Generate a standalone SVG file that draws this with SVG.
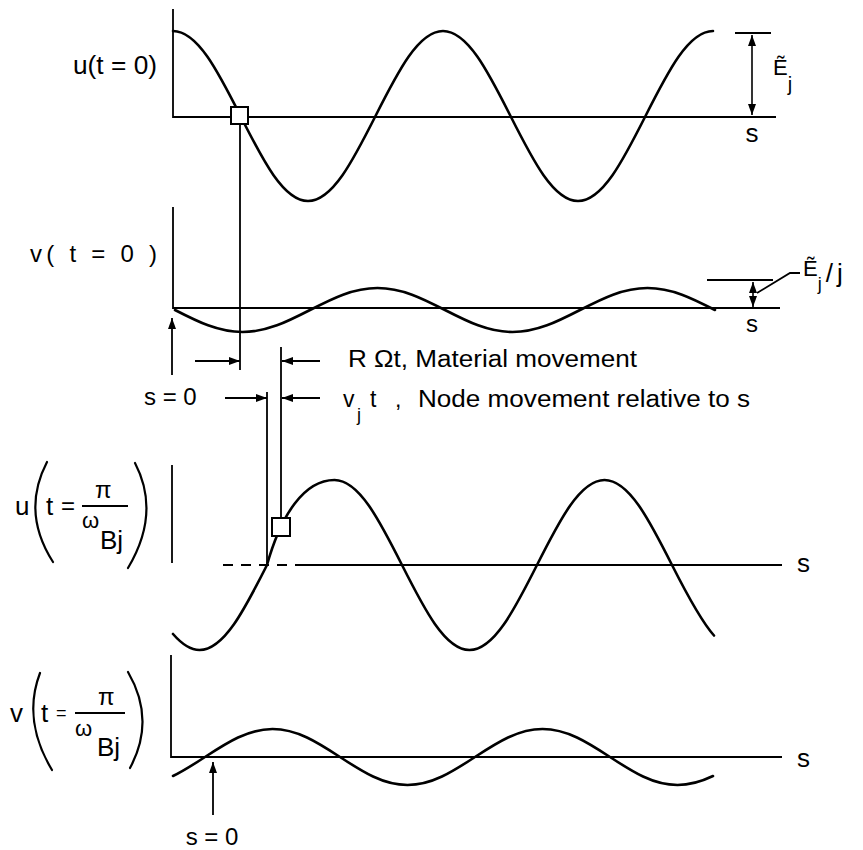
<svg xmlns="http://www.w3.org/2000/svg" width="863" height="850" viewBox="0 0 863 850">
<style>
.bg{fill:#fff}
.ax{stroke:#000;stroke-width:1.8;fill:none}
.cv{stroke:#000;stroke-width:2.6;fill:none;stroke-linecap:round}
.ln{stroke:#000;stroke-width:1.8;fill:none}
.ar{stroke:#000;stroke-width:1.8;fill:none;marker-end:url(#ah)}
.ar2{stroke:#000;stroke-width:1.6;fill:none;marker-start:url(#ah);marker-end:url(#ah)}
.box{fill:#fff;stroke:#000;stroke-width:2}
.par{stroke:#000;stroke-width:2.2;fill:none;stroke-linecap:round}
text{font-family:"Liberation Sans",Arial,sans-serif;fill:#000}
.t26{font-size:26px}
.t24{font-size:24px}
.t23{font-size:23px}
.t22{font-size:22px}
.t20{font-size:20px}
.t18{font-size:18px}
</style>
<defs>
<marker id="ah" markerUnits="userSpaceOnUse" markerWidth="11" markerHeight="8" refX="11" refY="4" orient="auto-start-reverse">
<path d="M0,0 L11,4 L0,8 z" fill="#000"/>
</marker>
</defs>
<rect class="bg" x="0" y="0" width="863" height="850"/>

<g id="plot-u-t0">
<path class="ax" d="M173,9 V117 H776"/>
<path class="cv" d="M173,31 c24.4,0 45,40.4 67.5,85 c22.5,44.6 43.1,85 67.5,85 c24.4,0 45,-40.4 67.5,-85 c22.5,-44.6 43.1,-85 67.5,-85 c24.4,0 45,40.4 67.5,85 c22.5,44.6 43.1,85 67.5,85 c24.4,0 45,-40.4 67.5,-85 c22.5,-44.6 43.1,-85 67.5,-85"/>
<rect class="box" x="231" y="107" width="17" height="17"/>
<path class="ln" d="M735,33 H771"/>
<path class="ar2" d="M752,35 V115"/>
<text class="t22" x="773" y="75">Ẽ<tspan class="t20" dy="16">j</tspan></text>
<text class="t26" x="752" y="142" text-anchor="middle">s</text>
<text class="t26" x="73" y="74" textLength="84" lengthAdjust="spacingAndGlyphs">u(t = 0)</text>
</g>

<g id="plot-v-t0">
<path class="ax" d="M173,207 V308 H780"/>
<path class="cv" d="M175,310 c22.5,11.55 43.1,22 67.5,22 c24.4,0 45,-10.45 67.5,-22 c22.5,-11.55 43.1,-22 67.5,-22 c24.4,0 45,10.45 67.5,22 c22.5,11.55 43.1,22 67.5,22 c24.4,0 45,-10.45 67.5,-22 c22.5,-11.55 43.1,-22 67.5,-22 c24.4,0 45,10.45 67.5,22"/>
<path class="ln" d="M707,280 H773"/>
<path class="ar2" d="M753,282 V307"/>
<polyline class="ln" points="757,293 790,273 800,273"/>
<text class="t22" x="803" y="276">Ẽ<tspan class="t18" dy="14">j</tspan><tspan class="t26" dx="4" dy="-8">/</tspan><tspan class="t26" dx="4">j</tspan></text>
<text class="t24" x="752" y="332" text-anchor="middle">s</text>
<text class="t24" x="30" y="262" textLength="127" lengthAdjust="spacing">v( t = 0 )</text>
</g>

<g id="plot-u-t1">
<path class="ax" d="M172,465 V563"/>
<path class="ax" d="M223,565 H295" stroke-dasharray="10 8"/>
<path class="ax" d="M295,565 H782"/>
<path class="cv" d="M173,634 Q187,650 199.5,650 c24.4,0 45,-40.4 67.5,-85 C281,515 304,480 334.5,480 c24.4,0 45,40.4 67.5,85 c22.5,44.6 43.1,85 67.5,85 c24.4,0 45,-40.4 67.5,-85 c22.5,-44.6 43.1,-85 67.5,-85 c24.4,0 45,40.4 67.5,85 Q699.5,619.4 714,635.5"/>
<rect class="box" x="272" y="518" width="18" height="18"/>
<text class="t26" x="797" y="572">s</text>
<text class="t26" x="15" y="515">u</text>
<path class="par" d="M47,462 Q21,512 53,562"/>
<path class="par" d="M135,463 Q161,513 128,568"/>
<text class="t26" x="46" y="515">t</text>
<text class="t24" x="61" y="514">=</text>
<path class="ln" d="M82,506 H128"/>
<text class="t24" x="95" y="498">π</text>
<text class="t22" x="82" y="528">ω</text>
<text class="t26" x="100" y="549">Bj</text>
</g>

<g id="plot-v-t1">
<path class="ax" d="M171,655 V757 H782"/>
<path class="cv" d="M173,776 Q183.7,770.9 205,757 c22.5,-14.7 43.1,-28 67.5,-28 c24.4,0 45,13.3 67.5,28 c22.5,14.7 43.1,28 67.5,28 c24.4,0 45,-13.3 67.5,-28 c22.5,-14.7 43.1,-28 67.5,-28 c24.4,0 45,13.3 67.5,28 c22.5,14.7 43.1,28 67.5,28 Q694.2,785 713,776"/>
<text class="t26" x="797" y="767">s</text>
<text class="t26" x="10" y="722">v</text>
<path class="par" d="M40,673 Q22,720 52,770"/>
<path class="par" d="M128,672 Q156,720 130,768"/>
<text class="t26" x="41" y="722">t</text>
<text class="t18" x="56" y="719">=</text>
<path class="ln" d="M75,713 H125"/>
<text class="t24" x="98" y="705">π</text>
<text class="t22" x="75" y="736">ω</text>
<text class="t26" x="97" y="756">Bj</text>
<path class="ar" d="M213,815 V762"/>
<text class="t24" x="212" y="845" text-anchor="middle">s = 0</text>
</g>

<g id="connectors">
<path class="ln" d="M240,124 V370"/>
<path class="ln" d="M281,347 V518"/>
<path class="ln" d="M267,392 V564"/>
<path class="ar" d="M172,375 V318"/>
<path class="ar" d="M195,361 H240"/>
<path class="ar" d="M320,361 H282"/>
<path class="ar" d="M225,398 H267"/>
<path class="ar" d="M320,398 H282"/>
</g>

<g id="annotations">
<text class="t24" x="144" y="405">s = 0</text>
<text class="t23" x="348" y="367" textLength="289" lengthAdjust="spacingAndGlyphs">R Ωt, Material movement</text>
<text class="t23" x="343" y="407">v</text>
<text class="t18" x="357" y="421">j</text>
<text class="t23" x="370" y="407">t</text>
<text class="t23" x="395" y="407">,</text>
<text class="t23" x="418" y="407" textLength="332" lengthAdjust="spacingAndGlyphs">Node movement relative to s</text>
</g>
</svg>
